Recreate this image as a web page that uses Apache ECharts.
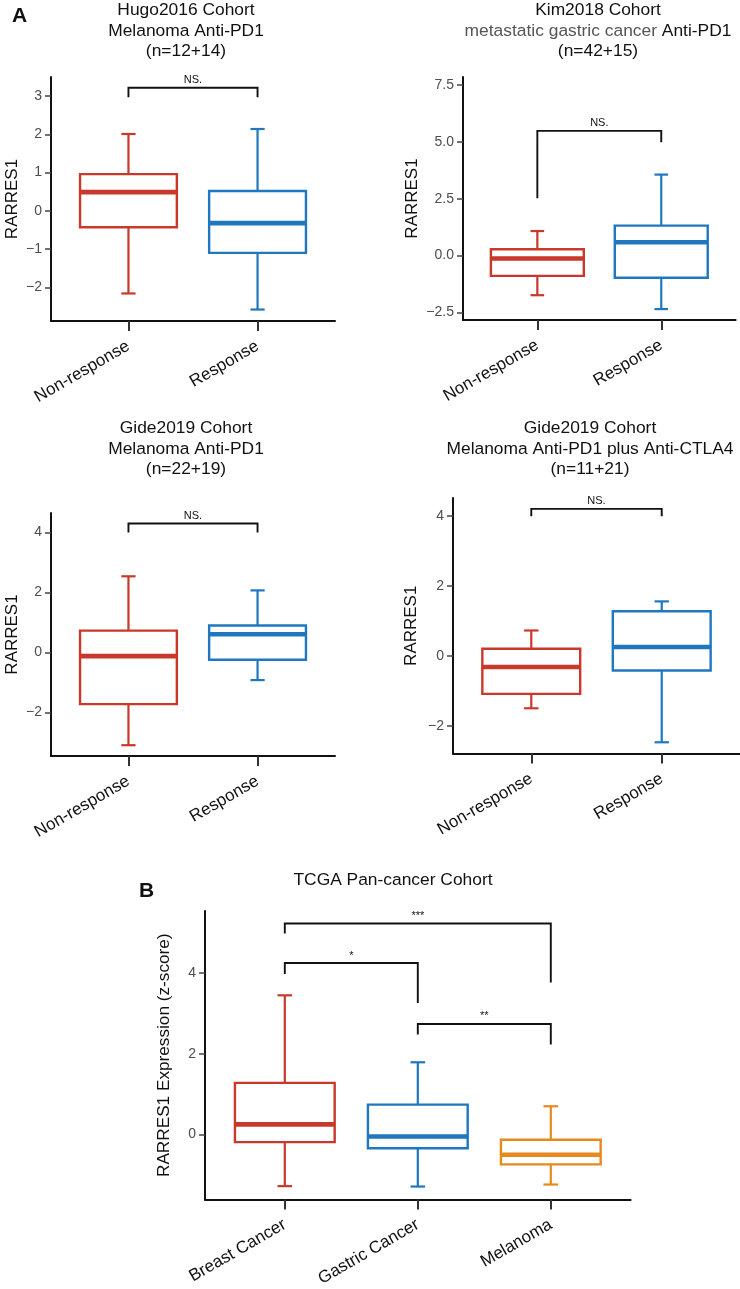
<!DOCTYPE html>
<html><head><meta charset="utf-8">
<script src="https://cdn.jsdelivr.net/npm/echarts@6/dist/echarts.min.js"></script>
<style>html,body{margin:0;padding:0;background:#fff}#c{width:740px;height:1289px}</style>
</head><body><div id="c"></div>
<script>
const FONT = '"Liberation Sans", Arial, Helvetica, sans-serif';

// ---- categories ----
const responseCats = ['Non-response', 'Response'];
const tcgaCats = ['Breast Cancer', 'Gastric Cancer', 'Melanoma'];

// ---- box statistics: [lower whisker, Q1, median, Q3, upper whisker] ----
const hugoStats = [[-2.16, -0.43, 0.49, 0.96, 2.01], [-2.58, -1.10, -0.32, 0.52, 2.14]];
const kimStats = [[-1.74, -0.89, -0.13, 0.28, 1.08], [-2.35, -0.97, 0.59, 1.32, 3.56]];
const gidePD1Stats = [[-3.09, -1.72, -0.12, 0.73, 2.54], [-0.92, -0.24, 0.61, 0.90, 2.07]];
const gideComboStats = [[-1.49, -1.08, -0.31, 0.21, 0.73], [-2.46, -0.41, 0.26, 1.28, 1.56]];
const tcgaStats = [[-1.28, -0.19, 0.25, 1.28, 3.45], [-1.29, -0.34, -0.05, 0.74, 1.79], [-1.24, -0.74, -0.50, -0.13, 0.70]];

// ---- significance brackets: [x1, x2, top, left leg end, right leg end] ----
const hugoBrackets = [[1, 2, 3.22, 2.97, 2.97]];
const kimBrackets = [[1, 2, 5.48, 2.52, 4.98]];
const gidePD1Brackets = [[1, 2, 4.30, 4.00, 4.00]];
const gideComboBrackets = [[1, 2, 4.20, 3.99, 3.99]];
const tcgaBrackets = [[1, 3, 5.23, 4.98, 3.77], [1, 2, 4.25, 3.98, 3.26], [2, 3, 2.74, 2.48, 2.23]];
const nsLabels = ['NS.'];
const tcgaLabels = ['***', '*', '**'];

// ---- tick labels ----
const hugoTicks = [-2, -1, 0, 1, 2, 3];
const kimTicks = [-2.5, 0, 2.5, 5, 7.5];
const gideTicks = [-2, 0, 2, 4];
const tcgaTicks = [0, 2, 4];

// ---- titles ----
const hugoTitle = 'Hugo2016 Cohort\nMelanoma Anti-PD1\n(n=12+14)';
const kimTitle = 'Kim2018 Cohort\n{g|metastatic gastric cancer} Anti-PD1\n(n=42+15)';
const gidePD1Title = 'Gide2019 Cohort\nMelanoma Anti-PD1\n(n=22+19)';
const gideComboTitle = 'Gide2019 Cohort\nMelanoma Anti-PD1 plus Anti-CTLA4\n(n=11+21)';
const tcgaTitle = 'TCGA Pan-cancer Cohort';

const colors = ['#C8392B', '#1F77C0', '#E8891E'];

const panels = [
  { stats: hugoStats, cats: responseCats, br: hugoBrackets, brl: nsLabels, ticks: hugoTicks, dec: 0,
    yMin: -2.88, yMax: 3.5, grid: { left: 51, top: 77, width: 284, height: 244 }, yName: 'RARRES1', gap: 30 },
  { stats: kimStats, cats: responseCats, br: kimBrackets, brl: nsLabels, ticks: kimTicks, dec: 1,
    yMin: -2.83, yMax: 7.85, grid: { left: 463, top: 77, width: 272.6, height: 243 }, yName: 'RARRES1', gap: 42 },
  { stats: gidePD1Stats, cats: responseCats, br: gidePD1Brackets, brl: nsLabels, ticks: gideTicks, dec: 0,
    yMin: -3.45, yMax: 4.65, grid: { left: 51, top: 513, width: 284, height: 243 }, yName: 'RARRES1', gap: 30 },
  { stats: gideComboStats, cats: responseCats, br: gideComboBrackets, brl: nsLabels, ticks: gideTicks, dec: 0,
    yMin: -2.78, yMax: 4.51, grid: { left: 453, top: 498, width: 298.5, height: 255.5 }, yName: 'RARRES1', gap: 33 },
  { stats: tcgaStats, cats: tcgaCats, br: tcgaBrackets, brl: tcgaLabels, ticks: tcgaTicks, dec: 0,
    yMin: -1.61, yMax: 5.54, grid: { left: 205, top: 911, width: 425.6, height: 298 }, yName: 'RARRES1 Expression (z-score)', gap: 32, nameSize: 17.2 }
];

const fmt = (dec) => (v) => (v < 0 ? '\u2212' : '') + Math.abs(v).toFixed(dec);

function boxRender(boxW, capW) {
  return function (params, api) {
    const x = api.value(0), lo = api.value(1), q1 = api.value(2), md = api.value(3), q3 = api.value(4), hi = api.value(5);
    const c = colors[params.dataIndex];
    const P = (a, b) => api.coord([a, b]);
    const line = (p1, p2, w) => ({ type: 'line', shape: { x1: p1[0], y1: p1[1], x2: p2[0], y2: p2[1] }, style: { stroke: c, lineWidth: w } });
    const tl = P(x - boxW / 2, q3), br = P(x + boxW / 2, q1);
    return { type: 'group', children: [
      line(P(x, q3), P(x, hi), 2.2), line(P(x, lo), P(x, q1), 2.2),
      line(P(x - capW / 2, hi), P(x + capW / 2, hi), 2.2), line(P(x - capW / 2, lo), P(x + capW / 2, lo), 2.2),
      { type: 'rect', shape: { x: tl[0], y: tl[1], width: br[0] - tl[0], height: br[1] - tl[1] }, style: { fill: '#fff', stroke: c, lineWidth: 2.4 } },
      line(P(x - boxW / 2, md), P(x + boxW / 2, md), 4.6)
    ] };
  };
}

function bracketRender(labels) {
  return function (params, api) {
    const x1 = api.value(0), x2 = api.value(1), t = api.value(2), l = api.value(3), r = api.value(4);
    const a = api.coord([x1, l]), b = api.coord([x1, t]), c = api.coord([x2, t]), d = api.coord([x2, r]);
    return { type: 'group', children: [
      { type: 'polyline', shape: { points: [a, b, c, d] }, style: { stroke: '#111', lineWidth: 1.9, fill: null } },
      { type: 'text', x: (b[0] + c[0]) / 2, y: b[1] - 2, style: { text: labels[params.dataIndex], align: 'center', verticalAlign: 'bottom', fontSize: 11, fontFamily: FONT, fill: '#111' } }
    ] };
  };
}

const grid = [], xAxis = [], yAxis = [], series = [];
panels.forEach((p, i) => {
  grid.push(Object.assign({ containLabel: false }, p.grid));
  const n = p.cats.length;
  const catVals = p.cats.map((_, k) => k + 1);
  xAxis.push({
    type: 'value', gridIndex: i, min: 0.4, max: n + 0.6,
    splitLine: { show: false },
    axisLine: { show: true, onZero: false, lineStyle: { color: '#111', width: 2 } },
    axisTick: { show: true, customValues: catVals, length: 10, lineStyle: { color: '#333', width: 2 } },
    axisLabel: { show: true, customValues: catVals, formatter: (v) => p.cats[Math.round(v) - 1] || '', rotate: 30, margin: 24,
      fontSize: 17, color: '#111', fontFamily: FONT }
  });
  yAxis.push({
    type: 'value', gridIndex: i, min: p.yMin, max: p.yMax,
    splitLine: { show: false },
    axisLine: { show: true, onZero: false, lineStyle: { color: '#111', width: 2 } },
    axisTick: { show: true, customValues: p.ticks, length: 6, lineStyle: { color: '#444', width: 1.5 } },
    axisLabel: { show: true, customValues: p.ticks, formatter: fmt(p.dec), fontSize: 14, color: '#4d4d4d', fontFamily: FONT, margin: 9 },
    name: p.yName, nameLocation: 'middle', nameRotate: 90, nameGap: p.gap,
    nameTextStyle: { fontSize: p.nameSize || 17, color: '#111', fontFamily: FONT }
  });
  series.push({
    type: 'custom', xAxisIndex: i, yAxisIndex: i, renderItem: boxRender(0.75, 0.11),
    encode: { x: 0, y: [1, 2, 3, 4, 5] },
    data: p.stats.map((s, k) => [k + 1].concat(s)), silent: true, clip: false
  });
  series.push({
    type: 'custom', xAxisIndex: i, yAxisIndex: i, renderItem: bracketRender(p.brl),
    encode: { x: [0, 1], y: [2, 3, 4] },
    data: p.br, silent: true, clip: false
  });
});

const TS = 17.4;
const titleStyle = (txt, extra) => Object.assign({ text: txt, align: 'center', verticalAlign: 'top', fontSize: TS, lineHeight: 20.5,
  fontFamily: FONT, fill: '#111' }, extra || {});

const graphic = [
  { type: 'text', x: 186, y: 0, style: titleStyle(hugoTitle) },
  { type: 'text', x: 598, y: 0, style: titleStyle(kimTitle, { rich: { g: { fill: '#555', fontSize: TS, lineHeight: 20.5, fontFamily: FONT } } }) },
  { type: 'text', x: 186, y: 418, style: titleStyle(gidePD1Title) },
  { type: 'text', x: 590, y: 418, style: titleStyle(gideComboTitle) },
  { type: 'text', x: 393, y: 870, style: titleStyle(tcgaTitle) },
  { type: 'text', x: 12, y: 6, style: { text: 'A', fontSize: 21, fontWeight: 'bold', fontFamily: FONT, fill: '#111' } },
  { type: 'text', x: 139, y: 881, style: { text: 'B', fontSize: 21, fontWeight: 'bold', fontFamily: FONT, fill: '#111' } }
];

const chart = echarts.init(document.getElementById('c'), null, { renderer: 'canvas' });
chart.setOption({ animation: false, backgroundColor: '#fff', grid, xAxis, yAxis, series, graphic });
</script></body></html>
